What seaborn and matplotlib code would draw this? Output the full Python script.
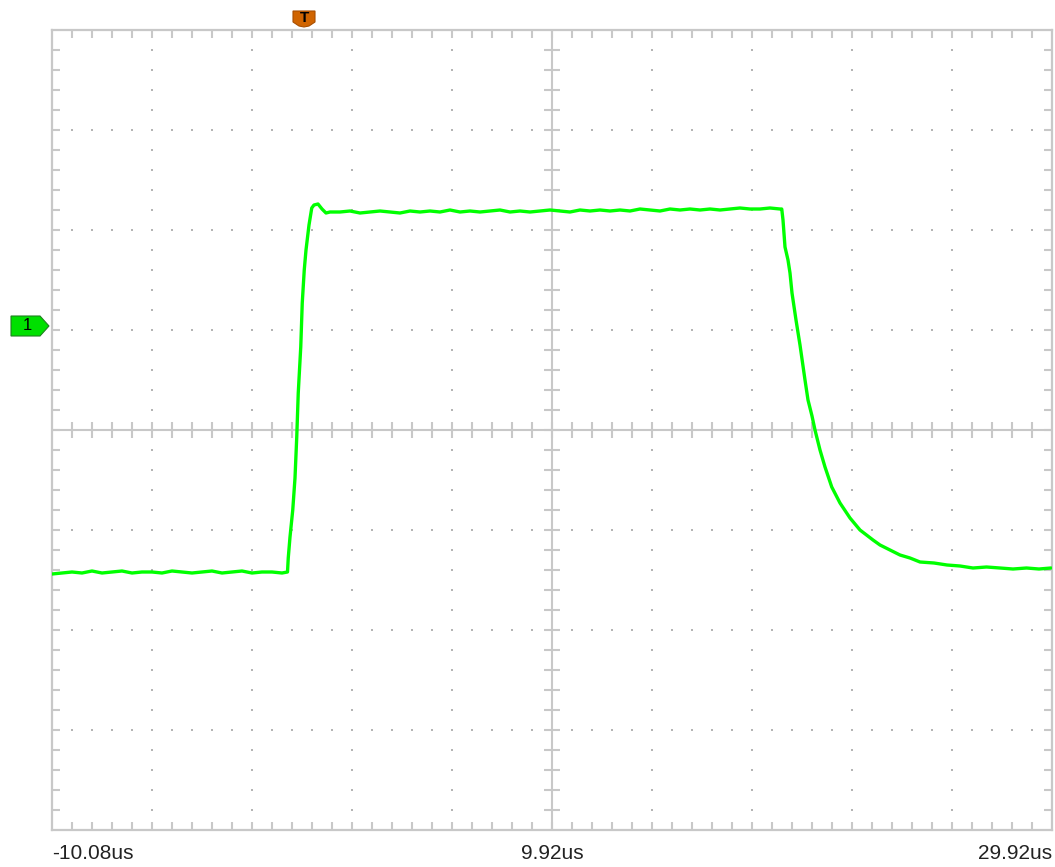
import numpy as np
import pandas as pd
import matplotlib
matplotlib.use("Agg")
import matplotlib.pyplot as plt
from matplotlib.patches import Polygon
import seaborn as sns

# ---------------- data (time in us, amplitude in divisions) ----------------
low_t = [-10.08, -9.68, -9.28, -8.88, -8.48, -8.08, -7.68, -7.28, -6.88, -6.48,
         -6.08, -5.68, -5.28, -4.88, -4.48, -4.08, -3.68, -3.28, -2.88, -2.48,
         -2.08, -1.68, -1.28, -0.88, -0.66]
low_v = [-1.44, -1.43, -1.42, -1.43, -1.41, -1.43, -1.42, -1.41, -1.43, -1.42,
         -1.42, -1.43, -1.41, -1.42, -1.43, -1.42, -1.41, -1.43, -1.42, -1.41,
         -1.43, -1.42, -1.42, -1.43, -1.42]

rise_t = [-0.63, -0.56, -0.45, -0.36, -0.29, -0.23, -0.13, -0.07, 0.01, 0.08,
          0.20, 0.31, 0.40, 0.56, 0.72, 0.88, 1.04]
rise_v = [-1.28, -1.07, -0.80, -0.48, -0.07, 0.37, 0.83, 1.27, 1.60, 1.80,
          2.05, 2.22, 2.25, 2.26, 2.21, 2.17, 2.18]

high_t = [1.44, 1.84, 2.24, 2.64, 3.04, 3.44, 3.84, 4.24, 4.64, 5.04,
          5.44, 5.84, 6.24, 6.64, 7.04, 7.44, 7.84, 8.24, 8.64, 9.04,
          9.44, 9.84, 10.24, 10.64, 11.04, 11.44, 11.84, 12.24, 12.64, 13.04,
          13.44, 13.84, 14.24, 14.64, 15.04, 15.44, 15.84, 16.24, 16.64, 17.04,
          17.44, 17.84, 18.24, 18.64, 19.04]
high_v = [2.18, 2.19, 2.17, 2.18, 2.19, 2.18, 2.17, 2.19, 2.18, 2.19,
          2.18, 2.20, 2.18, 2.19, 2.18, 2.19, 2.20, 2.18, 2.19, 2.18,
          2.19, 2.20, 2.19, 2.18, 2.20, 2.19, 2.20, 2.19, 2.20, 2.19,
          2.21, 2.20, 2.19, 2.21, 2.20, 2.21, 2.20, 2.21, 2.20, 2.21,
          2.22, 2.21, 2.21, 2.22, 2.21]

fall_t = [19.11, 19.16, 19.24, 19.36, 19.44, 19.52, 19.68, 19.84, 20.04, 20.16,
          20.32, 20.44, 20.64, 20.84, 21.11, 21.44, 21.84, 22.24, 22.76, 23.04,
          23.44, 23.84, 24.24, 24.64, 25.20, 25.72, 26.24, 26.76, 27.30, 27.84,
          28.36, 28.90, 29.40, 29.88]
fall_v = [2.21, 2.10, 1.83, 1.70, 1.57, 1.37, 1.10, 0.85, 0.50, 0.30,
          0.14, 0.00, -0.20, -0.37, -0.57, -0.73, -0.88, -1.00, -1.10, -1.15,
          -1.20, -1.25, -1.28, -1.32, -1.33, -1.35, -1.36, -1.38, -1.37, -1.38,
          -1.39, -1.38, -1.39, -1.38]

x_labels = ["-10.08us", "9.92us", "29.92us"]
x_label_pos = [-10.08, 9.92, 29.92]

trace = pd.DataFrame({"t": low_t + rise_t + high_t + fall_t,
                      "v": low_v + rise_v + high_v + fall_v})

# ---------------- figure ----------------
sns.set_style("white")
plt.rcParams["font.family"] = ["Liberation Sans", "DejaVu Sans"]

W, H = 1055, 867
fig = plt.figure(figsize=(W / 100, H / 100), dpi=100)
L, T, R, B = 52, 30, 1052, 830
ax = fig.add_axes([L / W, 1 - B / H, (R - L) / W, (B - T) / H])

x0, x1 = -10.08, 29.92
y0, y1 = -4.0, 4.0
ax.set_xlim(x0, x1)
ax.set_ylim(y0, y1)

grid_c = "#c8c8c8"
dot_c = "#b4b4b4"
xc = (x0 + x1) / 2
xdiv = (x1 - x0) / 10
ydiv = 1.0

# dotted graticule
maj_x = [x0 + i * xdiv for i in range(1, 10) if i != 5]
maj_y = [y0 + j * ydiv for j in range(1, 8) if j != 4]
dx, dy = [], []
for xm in maj_x:
    for k in range(1, 40):
        dx.append(xm); dy.append(y0 + k * 0.2)
for ym in maj_y:
    for k in range(1, 50):
        dx.append(x0 + k * xdiv / 5); dy.append(ym)
ax.scatter(dx, dy, s=1.4, marker="s", color=dot_c, linewidths=0, zorder=1)

# center cross
ax.axhline(0, color=grid_c, lw=1.5, zorder=1)
ax.axvline(xc, color=grid_c, lw=1.5, zorder=1)

# ticks
px_x = (x1 - x0) / 1000.0
px_y = (y1 - y0) / 800.0
tl = 8
txs = [x0 + k * xdiv / 5 for k in range(1, 50)]
tys = [y0 + k * 0.2 for k in range(1, 40)]
ax.vlines(txs, y0, y0 + tl * px_y, color=grid_c, lw=1.5, zorder=1)
ax.vlines(txs, y1 - tl * px_y, y1, color=grid_c, lw=1.5, zorder=1)
ax.vlines(txs, -tl * px_y, tl * px_y, color=grid_c, lw=1.5, zorder=1)
ax.hlines(tys, x0, x0 + tl * px_x, color=grid_c, lw=1.5, zorder=1)
ax.hlines(tys, x1 - tl * px_x, x1, color=grid_c, lw=1.5, zorder=1)
ax.hlines(tys, xc - tl * px_x, xc + tl * px_x, color=grid_c, lw=1.5, zorder=1)

for s in ax.spines.values():
    s.set_color(grid_c)
    s.set_linewidth(1.6)
    s.set_visible(True)

# trace
sns.lineplot(data=trace, x="t", y="v", ax=ax, color="#00ff00", lw=2.4,
             sort=False, estimator=None, zorder=3)

ax.set_xlabel("")
ax.set_ylabel("")
ax.set_yticks([])
ax.set_xticks(x_label_pos)
ax.set_xticklabels(x_labels, fontsize=15, color="#222222")
ax.tick_params(axis="x", length=0, pad=10)
labs = ax.get_xticklabels()
labs[0].set_ha("left")
labs[1].set_ha("center")
labs[2].set_ha("right")

# trigger marker (orange, at t=0, top)
fig.canvas.draw()
trig_px = ax.transData.transform((0.0, y1))
tx, ty = trig_px
tri = Polygon([(tx - 11, ty + 19), (tx + 11, ty + 19), (tx + 11, ty + 8),
               (tx + 5, ty + 4), (tx, ty + 3), (tx - 5, ty + 4), (tx - 11, ty + 8)],
              closed=True, transform=None, facecolor="#d06400",
              edgecolor="#a84e00", lw=0.8, clip_on=False)
fig.patches.append(tri)
fig.text(tx / W, (ty + 11.5) / H, "T", ha="center", va="center",
         fontsize=11, fontweight="bold", color="black")

# channel 1 marker (green, at level 1 div)
ch_px = ax.transData.transform((x0, 1.04))
cx, cy = ch_px
chp = Polygon([(cx - 41, cy + 10), (cx - 12, cy + 10), (cx - 3, cy),
               (cx - 12, cy - 10), (cx - 41, cy - 10)],
              closed=True, transform=None, facecolor="#00e000",
              edgecolor="#208020", lw=0.8, clip_on=False)
fig.patches.append(chp)
fig.text((cx - 25) / W, cy / H, "1", ha="center", va="center",
         fontsize=12, color="black")

fig.savefig("out.png", dpi=100)
